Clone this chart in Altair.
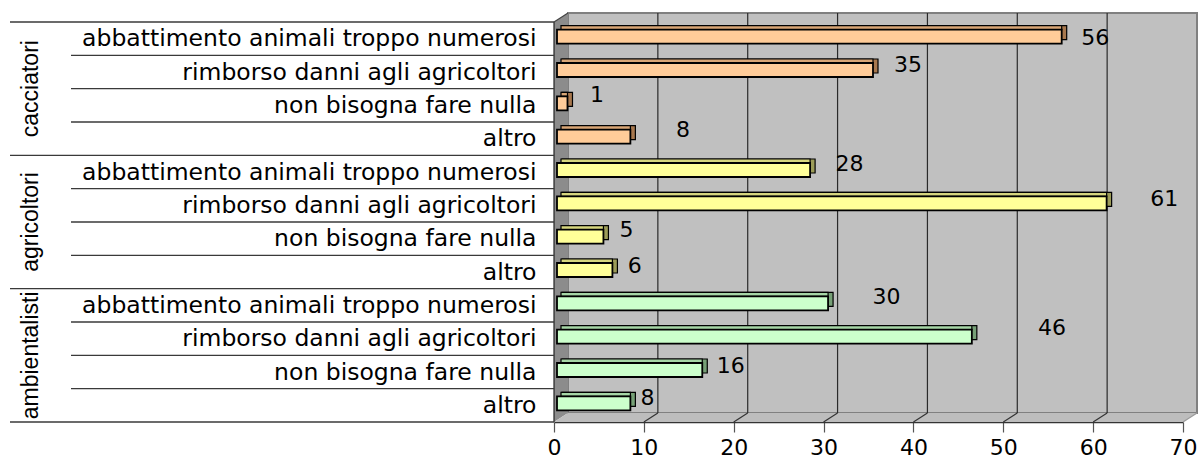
import json

import altair as alt
import pandas as pd

# Answers per respondent category, listed top to bottom
groups = ["cacciatori", "agricoltori", "ambientalisti"]
answers = [
    "abbattimento animali troppo numerosi",
    "rimborso danni agli agricoltori",
    "non bisogna fare nulla\u00a0",
    "altro",
]
cacciatori = [56, 35, 1, 8]
agricoltori = [28, 61, 5, 6]
ambientalisti = [30, 46, 16, 8]
x_ticks = [0, 10, 20, 30, 40, 50, 60, 70]

# Pixel nudges of each value label from its bar end (bar order, top to bottom)
label_dx = [38, 39.5, 34, 57, 44, 62, 27.6, 26.8, 63, 84.6, 33, 21.6]
label_dy = [-0.7, -6.7, -10.5, -8.8, -7.7, -6, -8.8, -6, -8.3, -10.8, -5.7, -7.5]

# ---- geometry of the pseudo-3D frame ----
W, H = 629, 400
PAD = {"left": 554, "top": 22, "right": 17, "bottom": 36}
XMAX = 70
NROWS = len(groups) * len(answers)
UX = XMAX / W          # data units per pixel (horizontal)
UY = NROWS / H         # rows per pixel (vertical)
DX, DY = 14 * UX, 9 * UY   # wall depth

# face / top / side colours of the bars of each group
palette = {
    "cacciatori": ("#FFCC99", "#D9A676", "#A8784E"),
    "agricoltori": ("#FFFF99", "#D6D67E", "#9C9C58"),
    "ambientalisti": ("#CCFFCC", "#A6D6A6", "#76A076"),
}

xs = alt.Scale(domain=[0, XMAX], nice=False, zero=False)
ys = alt.Scale(domain=[0, NROWS], nice=False, zero=False, reverse=True)

label_expr = (
    "[" + ",".join(json.dumps(a, ensure_ascii=False) for a in answers) + "]"
    + f"[floor(datum.value) % {len(answers)}]"
)
x_axis = alt.Axis(
    values=x_ticks, title=None, grid=False, tickSize=10, labelPadding=5,
    labelFont="DejaVu Sans", labelFontSize=22, labelColor="black",
    domainColor="#333333", domainWidth=1.5, tickColor="#555555", tickWidth=1.2,
    labelFlush=False,
)
y_axis = alt.Axis(
    values=[i + 0.5 for i in range(NROWS)], labelExpr=label_expr, title=None,
    grid=False, ticks=False, domain=False, labelPadding=18,
    labelFont="DejaVu Sans", labelFontSize=23.5, labelColor="black", labelLimit=1000,
)


def X(field):
    return alt.X(field, scale=xs, axis=x_axis)


def Y(field):
    return alt.Y(field, scale=ys, axis=y_axis)


# ---- bar table ----
series = [cacciatori, agricoltori, ambientalisti]
rows = []
for g, (grp, vals) in enumerate(zip(groups, series)):
    face, top, side = palette[grp]
    for a, v in enumerate(vals):
        i = g * len(answers) + a
        rows.append({
            "mid": i + 0.5, "zero": 0, "value": v, "label": str(v),
            "lx": v + label_dx[i] * UX, "ly": i + 0.5 + label_dy[i] * UY,
            "face": face, "top": top, "side": side,
        })
bars = pd.DataFrame(rows)

# ---- walls and floor ----
back = pd.DataFrame({"x": [DX], "x2": [XMAX + DX], "y": [-DY], "y2": [NROWS - DY]})
back_wall = alt.Chart(back).mark_rect(
    fill="#C0C0C0", stroke="#808080", strokeWidth=2
).encode(x=X("x:Q"), x2="x2:Q", y=Y("y:Q"), y2="y2:Q")

left = pd.DataFrame({"x": [0, DX], "y": [0, -DY], "y2": [NROWS, NROWS - DY]})
left_wall = alt.Chart(left).mark_area(orient="vertical", color="#8C8C8C").encode(
    x=X("x:Q"), y=Y("y:Q"), y2="y2:Q"
)

floor = pd.DataFrame({
    "x": [0, DX, XMAX, XMAX + DX],
    "y": [NROWS, NROWS - DY, NROWS - DY, NROWS - DY],
    "y2": [NROWS, NROWS, NROWS, NROWS - DY],
})
floor_area = alt.Chart(floor).mark_area(orient="vertical", color="#BDBDBD").encode(
    x=X("x:Q"), y=Y("y:Q"), y2="y2:Q"
)

segs = []
for t in x_ticks[1:-1]:
    segs.append({"x": t + DX, "y": -DY, "x2": t + DX, "y2": NROWS - DY, "c": "#2A2A2A"})
for t in x_ticks[1:]:
    segs.append({"x": t + DX, "y": NROWS - DY, "x2": t, "y2": NROWS,
                 "c": "#333333" if t < XMAX else "#9A9A9A"})
segs.append({"x": 0, "y": 0, "x2": 0, "y2": NROWS, "c": "#222222"})
segs.append({"x": 0, "y": 0, "x2": DX, "y2": -DY, "c": "#444444"})
segments = alt.Chart(pd.DataFrame(segs)).mark_rule(strokeWidth=1.2).encode(
    x=X("x:Q"), x2="x2:Q", y=Y("y:Q"), y2="y2:Q", color=alt.Color("c:N", scale=None)
)

# ---- category table lines on the left ----
bounds = list(range(NROWS + 1))
long_lines = pd.DataFrame({"y": [b for b in bounds if b % len(answers) == 0]})
short_lines = pd.DataFrame({"y": [b for b in bounds if b % len(answers) != 0]})
table_long = alt.Chart(long_lines).mark_rule(color="#3A3A3A", strokeWidth=1.3).encode(
    x=alt.value(10 - PAD["left"]), x2=alt.value(0), y=Y("y:Q")
)
table_short = alt.Chart(short_lines).mark_rule(color="#3A3A3A", strokeWidth=1.3).encode(
    x=alt.value(71 - PAD["left"]), x2=alt.value(0), y=Y("y:Q")
)

# ---- 3D bars: depth block, top face, front face ----
base = alt.Chart(bars)
bar_side = base.mark_rect(
    stroke="black", strokeWidth=1.2, xOffset=8, x2Offset=9.5, yOffset=-13, y2Offset=1
).encode(x=X("zero:Q"), x2="value:Q", y=Y("mid:Q"), y2="mid:Q",
         fill=alt.Fill("side:N", scale=None))
bar_top = base.mark_rect(
    stroke="black", strokeWidth=1.2, xOffset=7, x2Offset=4.5, yOffset=-13, y2Offset=-9
).encode(x=X("zero:Q"), x2="value:Q", y=Y("mid:Q"), y2="mid:Q",
         fill=alt.Fill("top:N", scale=None))
bar_face = base.mark_rect(
    stroke="black", strokeWidth=1.8, xOffset=3, x2Offset=4.5, yOffset=-9, y2Offset=5
).encode(x=X("zero:Q"), x2="value:Q", y=Y("mid:Q"), y2="mid:Q",
         fill=alt.Fill("face:N", scale=None))

values_text = base.mark_text(
    font="DejaVu Sans", fontSize=22, align="center", baseline="middle", color="black"
).encode(x=X("lx:Q"), y=Y("ly:Q"), text="label:N")

# ---- rotated group names ----
grp_df = pd.DataFrame({
    "name": groups,
    "y": [g * len(answers) + len(answers) / 2 for g in range(len(groups))],
})
group_text = alt.Chart(grp_df).mark_text(
    font="Liberation Sans", fontSize=23, angle=270, align="center",
    baseline="middle", color="black"
).encode(x=alt.value(31 - PAD["left"]), y=Y("y:Q"), text="name:N")

chart = alt.layer(
    back_wall, left_wall, floor_area, segments, table_long, table_short,
    bar_side, bar_top, bar_face, values_text, group_text,
).properties(
    width=W, height=H, padding=PAD, autosize=alt.AutoSizeParams(type="none"),
    background="white",
).configure_view(strokeWidth=0)

chart.save("out.html", embed_options={"renderer": "svg", "actions": False})
